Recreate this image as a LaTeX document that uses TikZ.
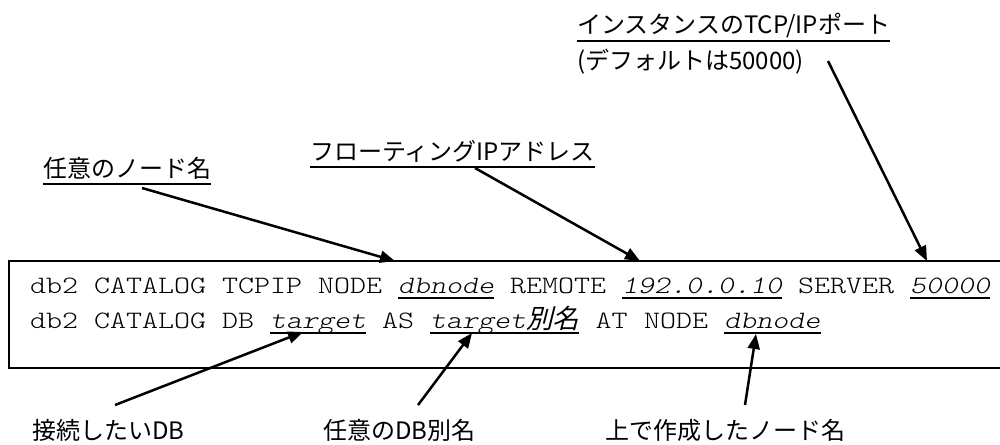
\documentclass[tikz,border=0pt]{standalone}
\usepackage{fontspec}
\usetikzlibrary{arrows.meta}
\newfontfamily\jp{Noto Sans CJK JP}
\newfontfamily\jpit[FakeSlant=0.25]{Noto Sans CJK JP}
\newfontfamily\cmono[FakeStretch=1.219]{Latin Modern Mono Light}
\newfontfamily\cmonosl[FakeStretch=1.219,FakeSlant=0.2]{Latin Modern Mono Light}
\begin{document}
\begin{tikzpicture}[x=1pt,y=-1pt,
  mono/.style={font={\cmono\fontsize{25}{30}\selectfont}, inner sep=0pt, anchor=base west},
  monoit/.style={mono, font={\cmonosl\fontsize{25}{30}\selectfont}},
  lab/.style={font={\jp\fontsize{24}{28}\selectfont}, inner sep=0pt, anchor=base west},
  ul/.style={line width=1.5pt},
  arr/.style={line width=2.5pt, -{Triangle[length=15pt,width=12pt]}},
  box/.style={line width=2pt}]
\useasboundingbox (0,0) rectangle (1000,444);
% command box
\draw[box] (9,261) rectangle (1015,368);
% line 1 (column c at x = 30 + 16 c)
\node[mono] (l1a) at (30,293) {db2};
\node[mono] (l1b) at (94,293) {CATALOG};
\node[mono] (l1c) at (222,293) {TCPIP};
\node[mono] (l1d) at (318,293) {NODE};
\node[monoit] (w1) at (398,293) {dbnode};
\node[mono] (l1e) at (510,293) {REMOTE};
\node[monoit] (w2) at (622,293) {192.0.0.10};
\node[mono] (l1f) at (798,293) {SERVER};
\node[monoit] (w3) at (910,293) {50000};
% line 2
\node[mono] (l2a) at (30,328) {db2};
\node[mono] (l2b) at (94,328) {CATALOG};
\node[mono] (l2c) at (222,328) {DB};
\node[monoit] (v1) at (270,328) {target};
\node[mono] (l2d) at (382,328) {AS};
\node[monoit] (v2) at (430,328) {target{\jpit\fontsize{26.5}{30}\selectfont 別名}};
\node[mono, xshift=16pt] (l2e) at (v2.base east) {AT};
\node[mono, xshift=16pt] (l2f) at (l2e.base east) {NODE};
\node[monoit, xshift=16pt] (v3) at (l2f.base east) {dbnode};
\foreach \w in {w1,w2,w3,v1,v2,v3}
  \draw[ul] ([yshift=-5pt]\w.base west) -- ([yshift=-5pt]\w.base east);
% labels
\node[lab] (n1) at (43,177) {任意のノード名};
\node[lab] (n2) at (310,160) {フローティングIPアドレス};
\node[lab] (n3) at (577,34) {インスタンスのTCP/IPポート};
\node[lab] (n3b) at (577,69) {(デフォルトは50000)};
\node[lab] (b1) at (32,439) {接続したいDB};
\node[lab] (b2) at (323,439) {任意のDB別名};
\node[lab] (b3) at (605,439) {上で作成したノード名};
\foreach \n in {n1,n2,n3}
  \draw[ul] ([yshift=-7pt]\n.base west) -- ([yshift=-7pt]\n.base east);
% arrows
\coordinate (a1s) at (142,188); \coordinate (a1e) at (395,261);
\coordinate (a2s) at (475,168); \coordinate (a2e) at (640,261);
\coordinate (a3s) at (828,61);  \coordinate (a3e) at (927,261);
\coordinate (a4s) at (115,405); \coordinate (a4e) at (303,332);
\coordinate (a5s) at (418,405); \coordinate (a5e) at (472,333);
\coordinate (a6s) at (745,405); \coordinate (a6e) at (756,334);
\draw[arr] (a1s) -- (a1e);
\draw[arr] (a2s) -- (a2e);
\draw[arr] (a3s) -- (a3e);
\draw[arr] (a4s) -- (a4e);
\draw[arr] (a5s) -- (a5e);
\draw[arr] (a6s) -- (a6e);
\end{tikzpicture}
\end{document}
